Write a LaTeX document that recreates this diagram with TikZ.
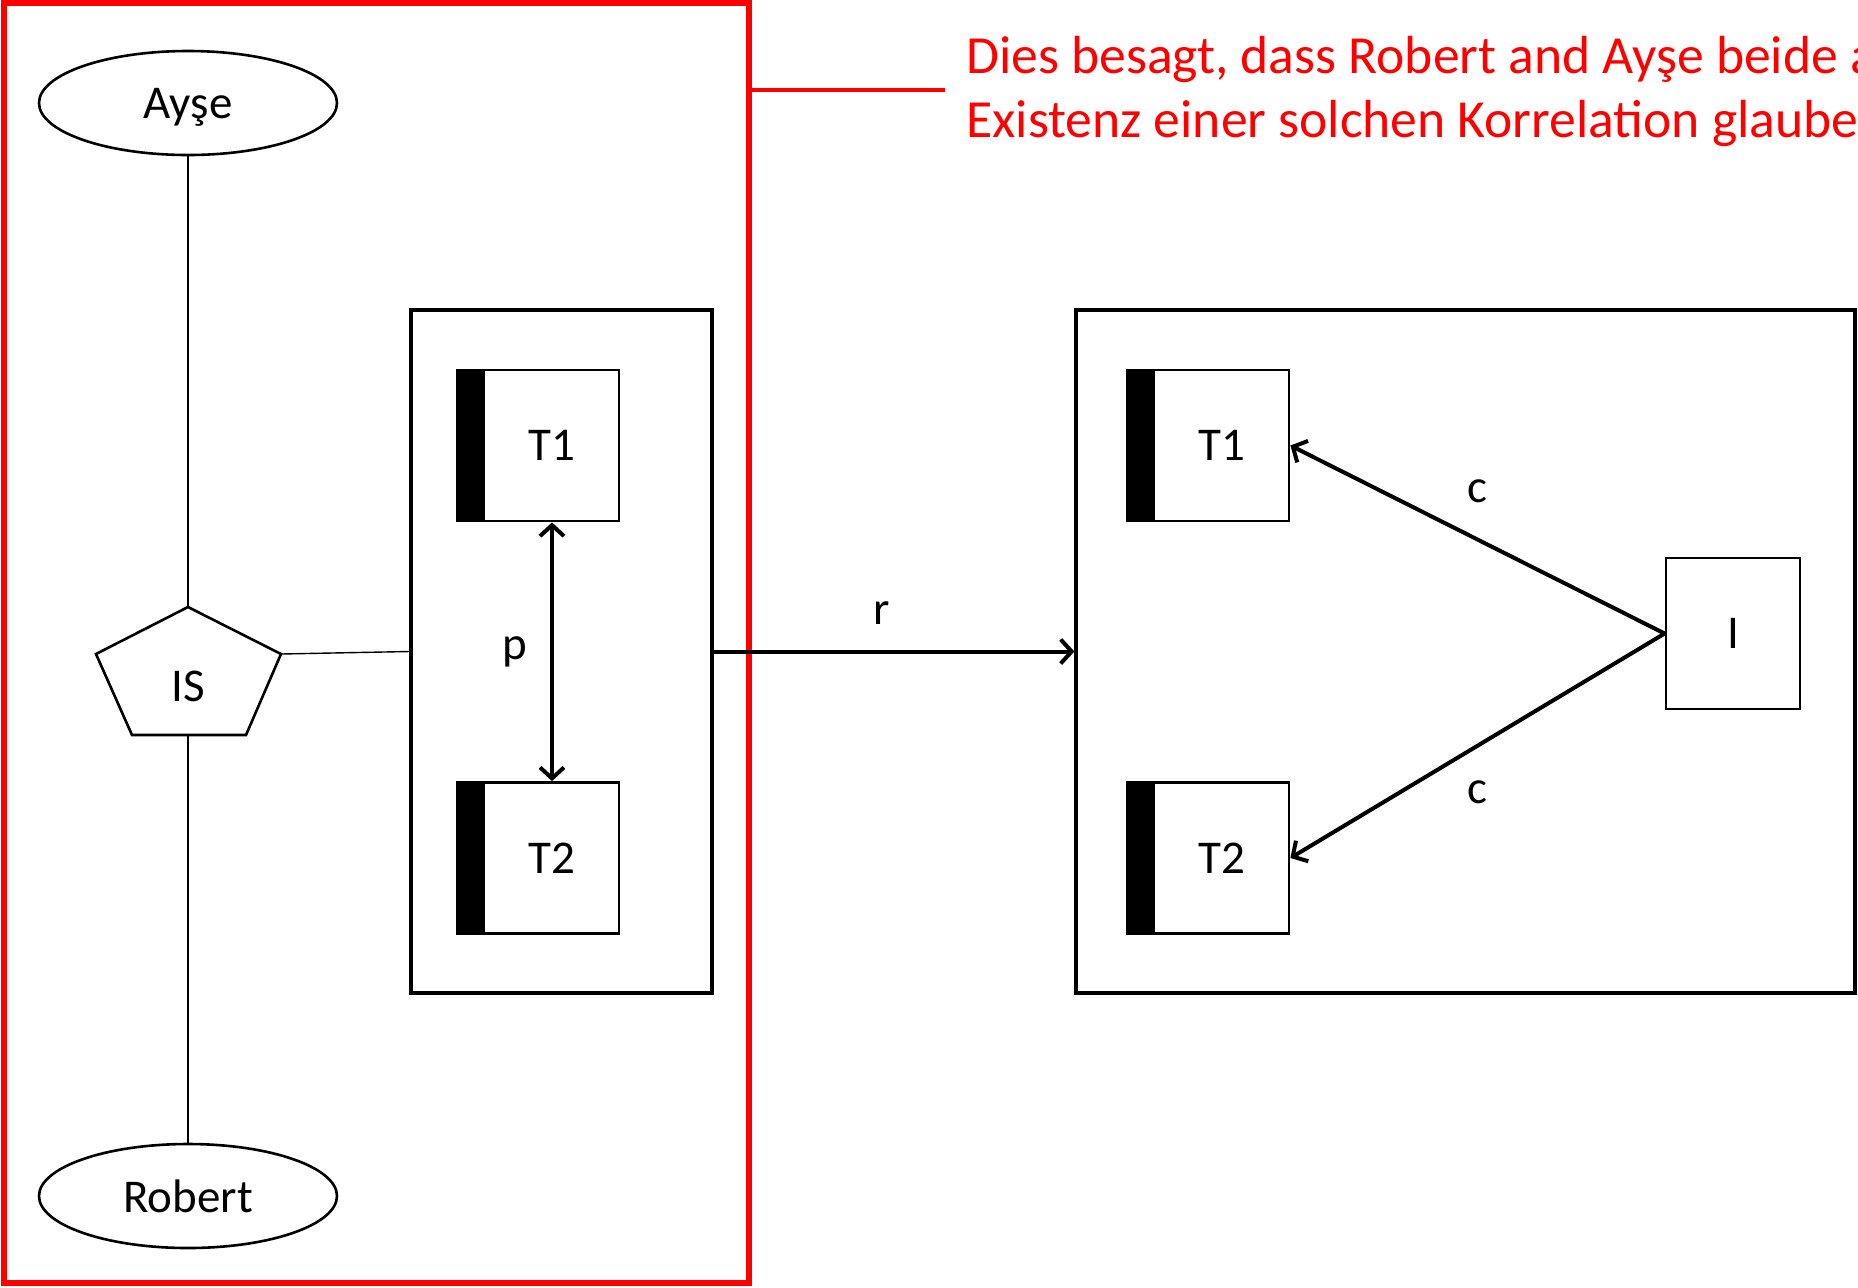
\documentclass[tikz,border=0pt]{standalone}
\usepackage{fontspec}
\setmainfont{Carlito}
\usepackage{tikz}
\usetikzlibrary{positioning, arrows.meta, shapes.geometric}
\definecolor{noteRed}{HTML}{FF0000}

\begin{document}
\begin{tikzpicture}[x=0.5pt, y=-0.5pt,
    agent/.style={draw, ellipse, line width=1.3pt, minimum width=149pt,
      minimum height=52pt, inner sep=0pt, text depth=0pt,
      font=\fontsize{23.5}{28}\selectfont},
    frame/.style={draw, line width=1.6pt, minimum height=341.5pt, inner sep=0pt},
    term/.style={draw, line width=1.4pt, minimum width=81pt, minimum height=75.5pt,
      inner sep=0pt, font=\fontsize{23.5}{28}\selectfont,
      execute at begin node={\hspace*{14pt}},
      path picture={\fill (path picture bounding box.south west) rectangle
        ([xshift=14pt]path picture bounding box.north west);}},
    plain/.style={draw, line width=1.4pt, minimum width=67pt, minimum height=75.5pt,
      inner sep=0pt, font=\fontsize{23.5}{28}\selectfont},
    lbl/.style={font=\fontsize{23.5}{28}\selectfont},
    arr/.style={-{Straight Barb[length=5.5pt, width=12pt]}, line width=2pt},
    darr/.style={{Straight Barb[length=5.5pt, width=12pt]}-{Straight Barb[length=5.5pt, width=12pt]},
      line width=2pt},
    thin/.style={line width=0.7pt}]
    \useasboundingbox (0,0) rectangle (1858,1287);
    % shared belief frame
    \node[draw=noteRed, line width=3pt, minimum width=372.5pt, minimum height=640pt,
      inner sep=0pt] (belief) at (376.5,643) {};
    \node[text=noteRed, align=left, anchor=west, inner sep=0pt,
      font=\fontsize{26.8}{32}\selectfont] (note) at (966,91)
      {Dies besagt, dass Robert and Ayşe beide an die\\
       Existenz einer solchen Korrelation glauben.};
    \coordinate (noteEnd) at (945,90);
    \draw[noteRed, line width=2.4pt] (belief.east |- noteEnd) -- (noteEnd);
    % agents
    \node[agent] (ayse) at (188,103) {Ayşe};
    \node[agent] (robert) at (188,1196) {Robert};
    \coordinate (isT) at (188,607); \coordinate (isR) at (281,654);
    \coordinate (isBR) at (246,735); \coordinate (isBL) at (132,735);
    \coordinate (isL) at (96,654);
    \draw[line width=1.3pt] (isT) -- (isR) -- (isBR) -- (isBL) -- (isL) -- cycle;
    \node[lbl] (is) at (188,686) {IS};
    \draw[thin] (ayse.south) -- (isT);
    \draw[thin] (robert.north) -- (isBL -| isT);
    % belief contents
    \node[frame, minimum width=150.5pt] (left) at (561.5,651.5) {};
    \node[term] (lT1) at (538,445.5) {T1};
    \node[term] (lT2) at (538,858) {T2};
    \draw[darr] ([xshift=7pt]lT1.south)
      -- node[lbl, left=8pt] {p} ([xshift=7pt]lT2.north);
    \draw[thin] (isR) -- (left.west);
    % world model
    \node[frame, minimum width=389.5pt] (right) at (1465.5,651.5) {};
    \node[term] (rT1) at (1208,445.5) {T1};
    \node[term] (rT2) at (1208,858) {T2};
    \node[plain] (cause) at (1733,633.5) {I};
    \draw[arr] (cause.west) -- node[lbl, above=14pt] {c} (rT1.east);
    \draw[arr] (cause.west) -- node[lbl, below=13pt] {c} (rT2.east);
    \draw[arr] (left.east) -- node[lbl, above=9pt, xshift=-6pt] {r} (right.west);
  \end{tikzpicture}
\end{document}
